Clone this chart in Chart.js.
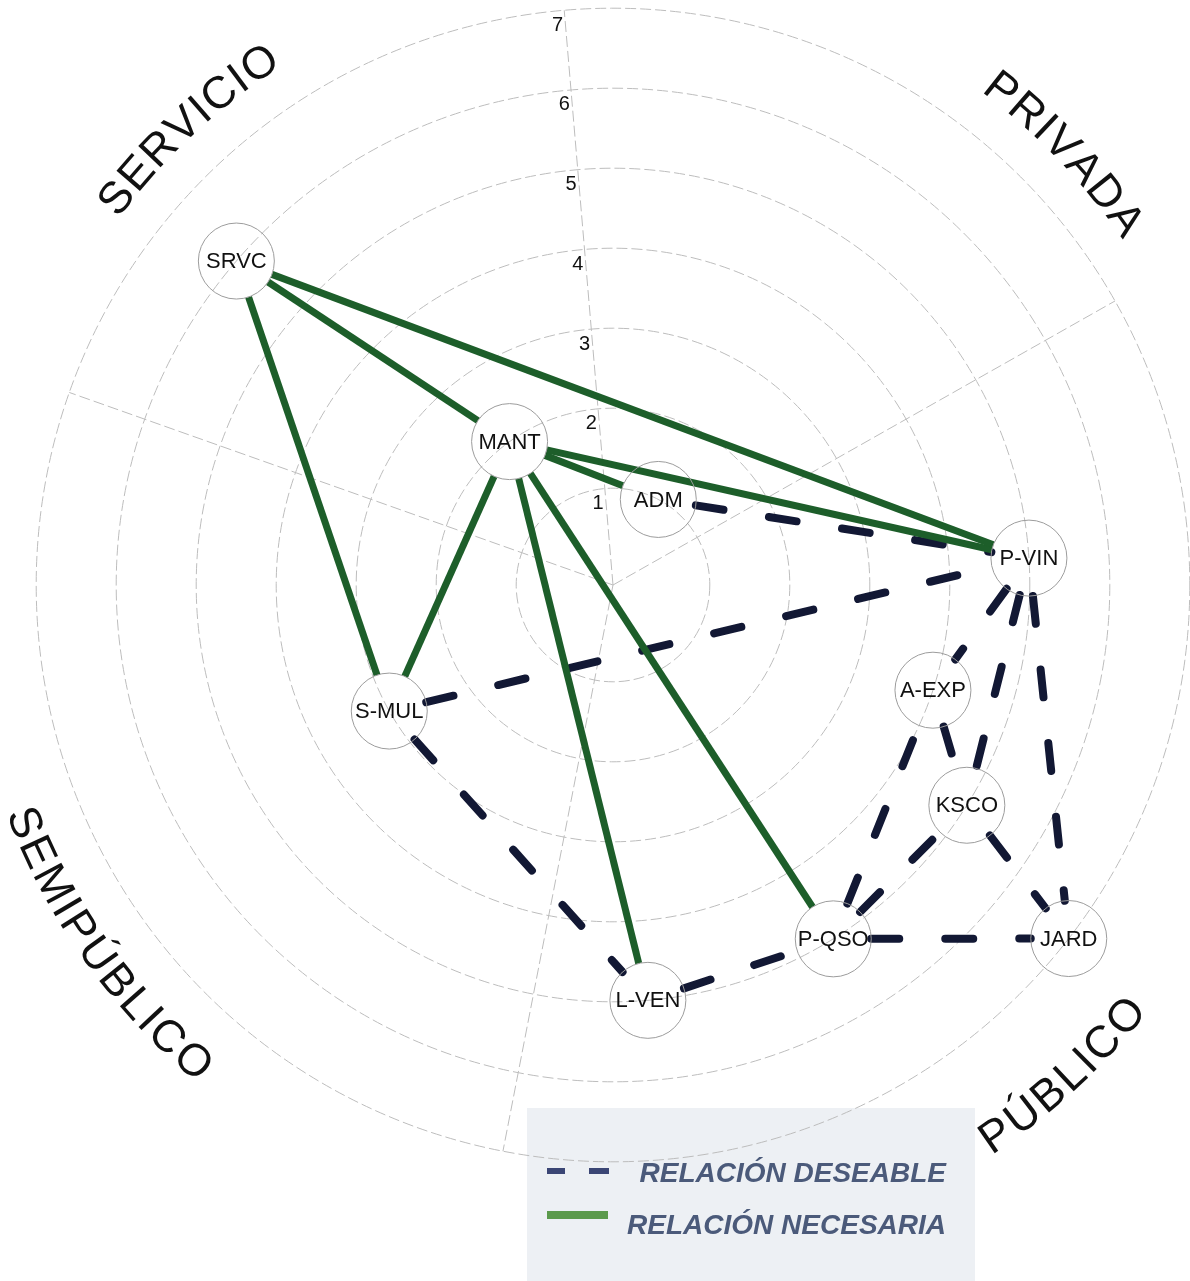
<!DOCTYPE html>
<html>
<head>
<meta charset="utf-8">
<title>Relaciones</title>
<script src="https://cdn.jsdelivr.net/npm/chart.js@4.4.1/dist/chart.umd.min.js"></script>
<style>
  body { margin: 0; background: #fff; }
  canvas { display: block; }
</style>
</head>
<body>
<canvas id="myChart" width="1190" height="1281"></canvas>
<script>
// nodes: ring level and angle (degrees, clockwise from top)
var nodeNames  = ['SRVC', 'MANT', 'ADM', 'P-VIN', 'A-EXP', 'KSCO', 'JARD', 'P-QSO', 'L-VEN', 'S-MUL'];
var nodeLevels = [6, 2, 1, 5, 4, 5, 7, 5, 5, 3];
var nodeAngles = [-49.3, -35.8, 27.9, 86.3, 108.2, 121.9, 127.8, 148.1, 175.2, 240.6];

// relations
var necessaryLinks = [
    ['SRVC', 'P-VIN'], ['SRVC', 'MANT'], ['SRVC', 'S-MUL'],
    ['MANT', 'P-VIN'], ['MANT', 'ADM'], ['MANT', 'S-MUL'],
    ['MANT', 'L-VEN'], ['MANT', 'P-QSO']
];
var desirableLinks = [
    ['ADM', 'P-VIN'], ['S-MUL', 'P-VIN'], ['S-MUL', 'L-VEN'],
    ['L-VEN', 'P-QSO'], ['P-QSO', 'JARD'], ['P-QSO', 'A-EXP'],
    ['P-QSO', 'KSCO'], ['P-VIN', 'A-EXP'], ['P-VIN', 'KSCO'],
    ['P-VIN', 'JARD'], ['A-EXP', 'KSCO'], ['KSCO', 'JARD']
];

// rings and sectors
var ringTicks    = [1, 2, 3, 4, 5, 6, 7];
var spokeAngles  = [-4.85, 60.5, 191, 289.5];
var sectorNames  = ['SERVICIO', 'PRIVADA', 'PÚBLICO', 'SEMIPÚBLICO'];
var sectorAngles = [-43, 46.3, 137.5, 234.6];
var legendLabels = ['RELACIÓN DESEABLE', 'RELACIÓN NECESARIA'];

// layout
var W = 1190, H = 1281;
var CX = 613, CY = 585, UNIT = 80;   // centre in px, px per ring
var HOLE = 0.21;                      // empty radius in the middle
var NODE_PX = 38;
var GREEN = '#1d5e2a';
var NAVY = '#121834';

function polar(level, deg) {
    var r = level + HOLE;
    var a = deg * Math.PI / 180;
    return { x: r * Math.sin(a), y: r * Math.cos(a) };
}

var nodePos = {};
nodeNames.forEach(function (n, i) {
    nodePos[n] = polar(nodeLevels[i], nodeAngles[i]);
});

// line between two nodes, cut back to the node circles
function linkPoints(a, b) {
    var p = nodePos[a], q = nodePos[b];
    var dx = q.x - p.x, dy = q.y - p.y;
    var len = Math.sqrt(dx * dx + dy * dy);
    var t = NODE_PX / UNIT / len;
    return [
        { x: p.x + dx * t, y: p.y + dy * t },
        { x: q.x - dx * t, y: q.y - dy * t }
    ];
}

var datasets = [{
    label: 'nodes',
    data: nodeNames.map(function (n) { return nodePos[n]; }),
    pointRadius: NODE_PX,
    pointBorderWidth: 1,
    pointBorderColor: '#9c9c9c',
    pointBackgroundColor: 'rgba(255,255,255,0)',
    showLine: false,
    order: 0
}];

necessaryLinks.forEach(function (l) {
    datasets.push({
        label: legendLabels[1],
        data: linkPoints(l[0], l[1]),
        showLine: true,
        borderColor: GREEN,
        borderWidth: 7,
        pointRadius: 0,
        order: 1
    });
});

desirableLinks.forEach(function (l) {
    datasets.push({
        label: legendLabels[0],
        data: linkPoints(l[0], l[1]),
        showLine: true,
        borderColor: NAVY,
        borderWidth: 8,
        borderDash: [28, 46],
        borderCapStyle: 'round',
        pointRadius: 0,
        order: 2
    });
});

// text following a circle; topOut = letters facing outward
function arcText(ctx, text, cx, cy, R, midDeg, topOut, spacing) {
    var chars = Array.from(text);
    var widths = chars.map(function (c) { return ctx.measureText(c).width; });
    var total = widths.reduce(function (s, w) { return s + w; }, 0) + spacing * (chars.length - 1);
    var mid = midDeg * Math.PI / 180;
    var acc = 0;
    ctx.textAlign = 'center';
    ctx.textBaseline = 'middle';
    chars.forEach(function (c, i) {
        var off = (acc + widths[i] / 2 - total / 2) / R;
        var a = topOut ? mid + off : mid - off;
        var x = cx + R * Math.sin(a), y = cy - R * Math.cos(a);
        ctx.save();
        ctx.translate(x, y);
        ctx.rotate(topOut ? a : a + Math.PI);
        ctx.fillText(c, 0, 0);
        ctx.restore();
        acc += widths[i] + spacing;
    });
}

var backdrop = {
    id: 'backdrop',
    beforeDraw: function (chart) {
        var ctx = chart.ctx;
        ctx.save();
        ctx.fillStyle = '#edf0f4';
        ctx.fillRect(527, 1108, 448, 173);
        ctx.restore();
    },
    beforeDatasetsDraw: function (chart) {
        var ctx = chart.ctx, xs = chart.scales.x, ys = chart.scales.y;
        var cx = xs.getPixelForValue(0), cy = ys.getPixelForValue(0);
        var px = function (v) { return xs.getPixelForValue(v) - cx; };
        ctx.save();
        ctx.strokeStyle = '#bdbdbd';
        ctx.lineWidth = 1;
        ctx.setLineDash([11, 4]);
        ringTicks.forEach(function (t) {
            ctx.beginPath();
            ctx.arc(cx, cy, px(t + HOLE), 0, Math.PI * 2);
            ctx.stroke();
        });
        var outer = ringTicks[ringTicks.length - 1];
        spokeAngles.forEach(function (a) {
            var p = polar(outer, a);
            ctx.beginPath();
            ctx.moveTo(cx, cy);
            ctx.lineTo(xs.getPixelForValue(p.x), ys.getPixelForValue(p.y));
            ctx.stroke();
        });
        ctx.setLineDash([]);

        // ring numbers along the top spoke
        ctx.fillStyle = '#111';
        ctx.font = '20px "Liberation Sans", Arial, sans-serif';
        ctx.textAlign = 'center';
        ctx.textBaseline = 'middle';
        var a = spokeAngles[0] * Math.PI / 180;
        ringTicks.forEach(function (t) {
            var r = px(t + HOLE) - 15;
            ctx.fillText(String(t), cx + r * Math.sin(a) - 8, cy - r * Math.cos(a));
        });

        // sector names
        ctx.font = '45px "Liberation Sans", Arial, sans-serif';
        sectorNames.forEach(function (s, i) {
            var ang = sectorAngles[i];
            var c = Math.cos(ang * Math.PI / 180);
            var topOut = c > 0;
            var R = topOut ? 628 : (i === 2 ? 672 : 636);
            arcText(ctx, s, cx, cy, R, ang, topOut, 2);
        });
        ctx.restore();
    },
    afterDatasetsDraw: function (chart) {
        var ctx = chart.ctx;
        var pts = chart.getDatasetMeta(0).data;
        ctx.save();
        ctx.fillStyle = '#111';
        ctx.font = '22px "Liberation Sans", Arial, sans-serif';
        ctx.textAlign = 'center';
        ctx.textBaseline = 'middle';
        pts.forEach(function (p, i) {
            ctx.fillText(nodeNames[i], p.x, p.y + 1);
        });

        // legend
        ctx.lineCap = 'butt';
        ctx.strokeStyle = '#3b4675';
        ctx.lineWidth = 6;
        ctx.beginPath();
        ctx.moveTo(547, 1171); ctx.lineTo(565, 1171);
        ctx.moveTo(589, 1171); ctx.lineTo(609, 1171);
        ctx.stroke();
        ctx.strokeStyle = '#5b9a4c';
        ctx.lineWidth = 8;
        ctx.beginPath();
        ctx.moveTo(547, 1215); ctx.lineTo(608, 1215);
        ctx.stroke();
        ctx.fillStyle = '#4b5a7a';
        ctx.font = 'italic bold 28px "Liberation Sans", Arial, sans-serif';
        ctx.textAlign = 'right';
        ctx.textBaseline = 'alphabetic';
        ctx.fillText(legendLabels[0], 946, 1182);
        ctx.fillText(legendLabels[1], 946, 1234);
        ctx.restore();
    }
};

var ctx = document.getElementById('myChart').getContext('2d');
var chart = new Chart(ctx, {
    type: 'scatter',
    data: { datasets: datasets },
    options: {
        responsive: false,
        animation: false,
        events: [],
        layout: { padding: 0, autoPadding: false },
        scales: {
            x: { type: 'linear', display: false, min: -CX / UNIT, max: (W - CX) / UNIT },
            y: { type: 'linear', display: false, min: -(H - CY) / UNIT, max: CY / UNIT }
        },
        plugins: {
            legend: { display: false },
            tooltip: { enabled: false }
        }
    },
    plugins: [backdrop]
});
</script>
</body>
</html>
